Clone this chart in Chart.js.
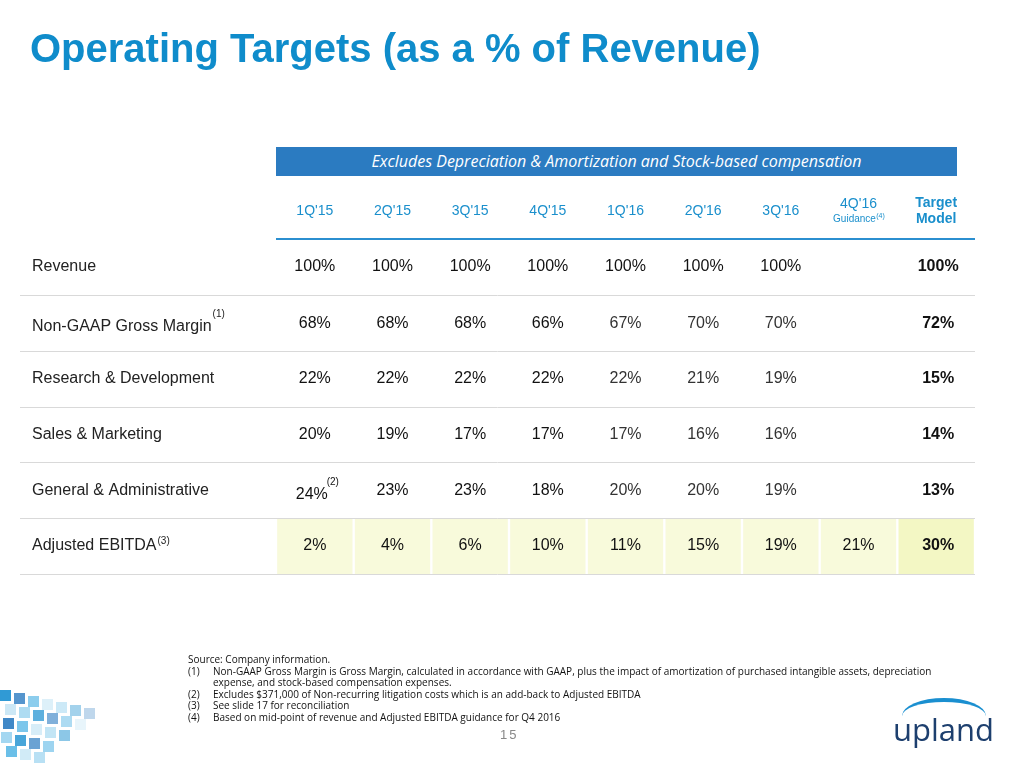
<!DOCTYPE html>
<html><head><meta charset="utf-8">
<script src="https://cdn.jsdelivr.net/npm/chart.js@4/dist/chart.umd.min.js"></script>
<style>
body{margin:0;width:1024px;height:768px;position:relative;background:#fff;overflow:hidden;font-family:"Liberation Sans",Arial,sans-serif}
#c{position:absolute;left:0;top:0}
.t{position:absolute;left:30px;top:26px;font-size:40px;font-weight:bold;color:#0f8ccb;white-space:nowrap}
.banner{position:absolute;left:276px;top:147px;width:681px;height:29px;background:#2b7bc1;color:#fff;font-family:"Open Sans",sans-serif;font-style:italic;font-size:16px;line-height:29px;text-align:center}
.fn{position:absolute;left:188px;top:654px;font-family:"Open Sans",sans-serif;font-size:10px;color:#111;line-height:11.5px;width:760px}
.fn div{display:flex}.fn span{width:25px;flex:none}
.pg{position:absolute;left:500px;top:727px;font-size:13px;color:#888;letter-spacing:2px}
.logo{position:absolute;left:893px;top:708px;font-family:"Open Sans",sans-serif;font-size:31px;color:#1d3f6e}
.arc{position:absolute;left:902px;top:698px;width:84px;height:14px;border-top:4px solid #1a8fd0;border-radius:50%/100% 100% 0 0}
.sq{position:absolute;width:11px;height:11px}
</style></head><body>
<canvas id="c" width="1024" height="768"></canvas>
<div class="t">Operating Targets (as a % of Revenue)</div>
<div class="banner">Excludes Depreciation &amp; Amortization and Stock-based compensation</div>
<div class="fn"><div>Source: Company information.</div>
<div><span>(1)</span>Non-GAAP Gross Margin is Gross Margin, calculated in accordance with GAAP, plus the impact of amortization of purchased intangible assets, depreciation expense, and stock-based compensation expenses.</div>
<div><span>(2)</span>Excludes $371,000 of Non-recurring litigation costs which is an add-back to Adjusted EBITDA</div>
<div><span>(3)</span>See slide 17 for reconciliation</div>
<div><span>(4)</span>Based on mid-point of revenue and Adjusted EBITDA guidance for Q4 2016</div></div>
<div class="pg">15</div>
<div class="arc"></div><div class="logo">upland</div>
<div id="sqs"></div>
<script>
const columns=["1Q'15","2Q'15","3Q'15","4Q'15","1Q'16","2Q'16","3Q'16","4Q'16","Target"];
const rowLabels=["Revenue","Non-GAAP Gross Margin","Research & Development","Sales & Marketing","General & Administrative","Adjusted EBITDA"];
const revenue=["100%","100%","100%","100%","100%","100%","100%","","100%"];
const grossMargin=["68%","68%","68%","66%","67%","70%","70%","","72%"];
const rnd=["22%","22%","22%","22%","22%","21%","19%","","15%"];
const sales=["20%","19%","17%","17%","17%","16%","16%","","14%"];
const gna=["24%","23%","23%","18%","20%","20%","19%","","13%"];
const ebitda=["2%","4%","6%","10%","11%","15%","19%","21%","30%"];
const rows=[revenue,grossMargin,rnd,sales,gna,ebitda];
const hl=columns.map(()=>[5,6]);

// decorative squares
const sc=['#1a8fd0','#5bb8e6','#9ad3ef','#2b7bc1','#c6e6f5'];
let h='';for(let i=0;i<40;i++){const c=i%8,r=Math.floor(i/8);if(c>6-r)continue;
h+=`<div class="sq" style="left:${c*14+((r*5)%7)}px;top:${690+r*14+c*3}px;background:${sc[(i*3)%5]};opacity:${0.9-c*0.1}"></div>`;}
document.getElementById('sqs').innerHTML=h;

const textPlugin={id:'txt',afterDraw(ch){
 const c=ch.ctx,x=ch.scales.x,y=ch.scales.y;
 c.save();
 c.strokeStyle='#d9d9d9';c.lineWidth=1;
 for(let i=1;i<=6;i++){const py=Math.round(y.getPixelForValue(i))+0.5;c.beginPath();c.moveTo(20,py);c.lineTo(975,py);c.stroke();}
 c.strokeStyle='#2b8fd0';c.lineWidth=2;const p0=y.getPixelForValue(0);c.beginPath();c.moveTo(276,p0);c.lineTo(975,p0);c.stroke();
 c.textAlign='center';c.textBaseline='middle';
 columns.forEach((col,i)=>{const px=x.getPixelForValue(i);
  if(i<7){c.fillStyle='#1a8fcc';c.font='14px "Liberation Sans"';c.fillText(col,px,211);}
  else if(i==7){c.fillStyle='#1a8fcc';c.font='14px "Liberation Sans"';c.fillText("4Q'16",px,204);c.font='10px "Liberation Sans"';c.fillText('Guidance',px-4,219);c.font='7px "Liberation Sans"';c.fillText('(4)',px+22,216);}
  else{c.fillStyle='#1a8fcc';c.font='bold 14px "Liberation Sans"';c.fillText('Target',px,203);c.fillText('Model',px,219);}
 });
 rows.forEach((r,ri)=>{const py=y.getPixelForValue(ri+0.5);
  c.textAlign='left';c.fillStyle='#222';c.font='16px "Liberation Sans"';
  const ly=ri==1?py+4:py;c.fillText(rowLabels[ri],32,ly);
  const w=c.measureText(rowLabels[ri]).width;
  if(ri==1){c.font='10px "Liberation Sans"';c.fillText('(1)',32+w+1,py-9);}
  if(ri==5){c.font='10px "Liberation Sans"';c.fillText('(3)',32+w+1,py-5);}
  c.textAlign='center';
  r.forEach((v,i)=>{if(!v)return;const px=x.getPixelForValue(i);
   c.fillStyle=(ri>=1&&ri<=4&&i>=4&&i<=6)?'#333':'#111';
   c.font=(i==8?'bold ':'')+'16px "Liberation Sans"';
   if(ri==4&&i==0){c.fillText(v,px-3,py+4);c.font='10px "Liberation Sans"';c.fillText('(2)',px+18,py-8);}
   else c.fillText(v,px+(i==8?2:0),ry=(ri==1?py+1:py));
  });
 });
 c.restore();}};
let ry;
new Chart(document.getElementById('c'),{type:'bar',
 data:{labels:columns,datasets:[{data:hl,backgroundColor:columns.map((c,i)=>i==8?'#f3f7c4':'#f8fadb'),borderWidth:0,barPercentage:0.97,categoryPercentage:1}]},
 options:{responsive:false,animation:false,devicePixelRatio:1,
  layout:{padding:{left:276,right:49,top:239,bottom:194}},
  plugins:{legend:{display:false},tooltip:{enabled:false}},
  scales:{x:{display:false,offset:true},y:{display:false,min:0,max:6,reverse:true}}},
 plugins:[textPlugin]});
</script></body></html>
